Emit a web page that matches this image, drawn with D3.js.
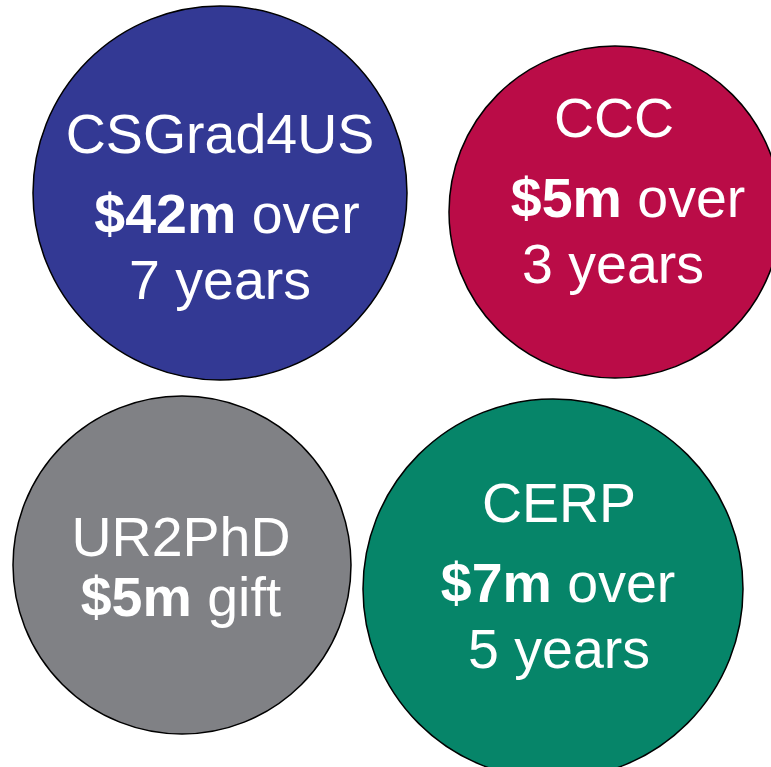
<!DOCTYPE html>
<html>
<head>
<meta charset="utf-8">
<script src="https://cdn.jsdelivr.net/npm/d3@7"></script>
<style>
  html, body { margin: 0; padding: 0; background: #fff; overflow: hidden; }
  svg { display: block; }
</style>
</head>
<body>
<svg width="771" height="767"></svg>
<script>
// data
const programs = ["CSGrad4US", "CCC", "UR2PhD", "CERP"];
const amounts = ["$42m", "$5m", "$5m", "$7m"];
const kinds = ["over", "over", "gift", "over"];
const years = [7, 3, null, 5];
const colors = ["#333994", "#ba0c47", "#808185", "#068569"];

// layout (pixel positions of each bubble and its label lines)
const layout = [
  { cx: 220, cy: 193, r: 187, lines: [{ dy: -40, dx: 0 }, { dy: 40, dx: 7 }, { dy: 106, dx: 0 }] },
  { cx: 615, cy: 212, r: 166, lines: [{ dy: -75, dx: -1 }, { dy: 5, dx: 13 }, { dy: 71, dx: -2 }] },
  { cx: 182, cy: 565, r: 169, lines: [{ dy: -9, dx: -1 }, { dy: 51, dx: -1 }] },
  { cx: 553, cy: 589, r: 190, lines: [{ dy: -67, dx: 6 }, { dy: 13, dx: 5 }, { dy: 79, dx: 6 }] }
];

const data = programs.map((name, i) => ({
  name,
  amount: amounts[i],
  kind: kinds[i],
  years: years[i],
  color: colors[i],
  pos: layout[i]
}));

const svg = d3.select("svg");

const g = svg.selectAll("g.bubble")
  .data(data)
  .enter().append("g")
  .attr("class", "bubble")
  .attr("transform", d => `translate(${d.pos.cx},${d.pos.cy})`);

g.append("circle")
  .attr("r", d => d.pos.r)
  .attr("fill", d => d.color)
  .attr("stroke", "#000")
  .attr("stroke-width", 1.5);

const text = g.append("text")
  .attr("text-anchor", "middle")
  .attr("fill", "#fff")
  .style("font-family", "'Liberation Sans', Arial, Helvetica, sans-serif")
  .style("font-size", "55.5px");

// line 1: name
text.append("tspan")
  .attr("x", d => d.pos.lines[0].dx)
  .attr("y", d => d.pos.lines[0].dy)
  .text(d => d.name);

// line 2: bold amount + "over"/"gift"
text.append("tspan")
  .attr("x", d => d.pos.lines[1].dx)
  .attr("y", d => d.pos.lines[1].dy)
  .style("font-weight", "bold")
  .text(d => d.amount);
text.append("tspan")
  .text(d => "\u00a0" + d.kind);

// line 3: duration
text.filter(d => d.years !== null)
  .append("tspan")
  .attr("x", d => d.pos.lines[2].dx)
  .attr("y", d => d.pos.lines[2].dy)
  .text(d => `${d.years} years`);
</script>
</body>
</html>
